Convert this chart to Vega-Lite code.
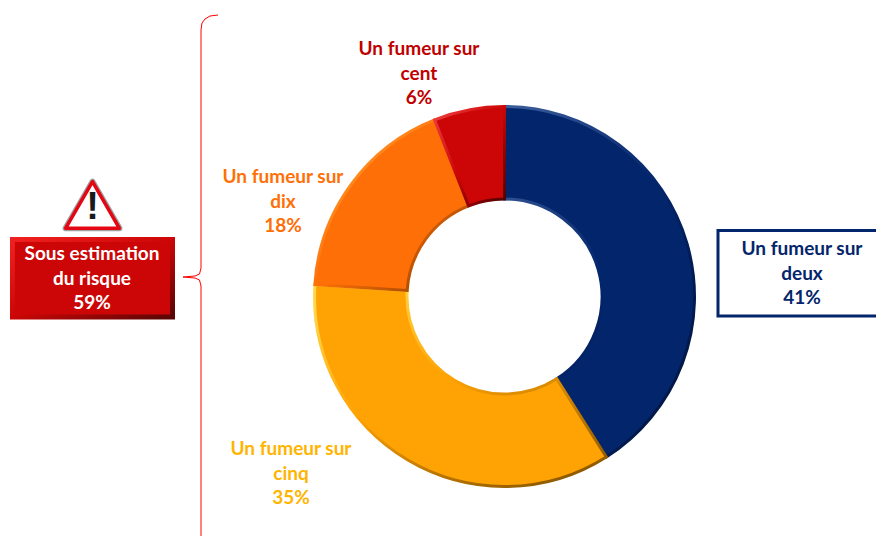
{"$schema":"https://vega.github.io/schema/vega-lite/v6.json","width":876,"height":536,"autosize":"none","padding":0,"background":"white","config":{"view":{"stroke":null},"axis":{"disable":true},"legend":{"disable":true}},
"datasets":{"parts":[{"tranche":"Un fumeur sur deux","part":41,"rang":1},{"tranche":"Un fumeur sur cinq","part":35,"rang":2},{"tranche":"Un fumeur sur dix","part":18,"rang":3},{"tranche":"Un fumeur sur cent","part":6,"rang":4}]},
"layer":[
{"data":{"values":[{"k":1,"x":218,"y":15},{"k":2,"x":210,"y":16},{"k":3,"x":205,"y":19},{"k":4,"x":202,"y":23},{"k":5,"x":201,"y":30},{"k":6,"x":201,"y":268},{"k":7,"x":199.5,"y":274},{"k":8,"x":195,"y":276},{"k":9,"x":183,"y":277},{"k":10,"x":195,"y":278},{"k":11,"x":199.5,"y":280},{"k":12,"x":201,"y":286},{"k":13,"x":201,"y":536}]},"mark":{"type":"line","color":"#FF0000","strokeWidth":1},"encoding":{"x":{"field":"x","type":"quantitative","scale":{"domain":[0,876],"nice":false,"zero":false}},"y":{"field":"y","type":"quantitative","scale":{"domain":[536,0],"nice":false,"zero":false}},"order":{"field":"k","type":"quantitative"}}},
{"data":{"name":"parts"},"transform":[{"stack":"part","sort":[{"field":"rang","order":"ascending"}],"as":["deb","fin"]},{"filter":"datum.rang==1"}],"mark":{"type":"arc","outerRadius":190,"innerRadius":97.5,"strokeWidth":3,"fill":"#03256B","stroke":{"gradient":"linear","x1":0,"y1":0,"x2":1,"y2":1,"stops":[{"offset":0,"color":"#3E5F9E"},{"offset":0.5,"color":"#03256B"},{"offset":1,"color":"#011238"}]}},"encoding":{"x":{"datum":504.5,"type":"quantitative"},"y":{"datum":296.5,"type":"quantitative"},"theta":{"field":"deb","type":"quantitative","scale":{"domain":[0,100],"nice":false,"zero":false}},"theta2":{"field":"fin"}}},
{"data":{"name":"parts"},"transform":[{"stack":"part","sort":[{"field":"rang","order":"ascending"}],"as":["deb","fin"]},{"filter":"datum.rang==2"}],"mark":{"type":"arc","outerRadius":190,"innerRadius":97.5,"strokeWidth":3,"fill":"#FFA304","stroke":{"gradient":"linear","x1":0.2,"y1":0,"x2":0.8,"y2":1,"stops":[{"offset":0,"color":"#FFD84A"},{"offset":0.45,"color":"#FFA304"},{"offset":1,"color":"#8F5A00"}]}},"encoding":{"x":{"datum":504.5,"type":"quantitative"},"y":{"datum":296.5,"type":"quantitative"},"theta":{"field":"deb","type":"quantitative"},"theta2":{"field":"fin"}}},
{"data":{"name":"parts"},"transform":[{"stack":"part","sort":[{"field":"rang","order":"ascending"}],"as":["deb","fin"]},{"filter":"datum.rang==3"}],"mark":{"type":"arc","outerRadius":190,"innerRadius":97.5,"strokeWidth":3,"fill":"#FF6F07","stroke":{"gradient":"linear","x1":0,"y1":0,"x2":1,"y2":1,"stops":[{"offset":0,"color":"#FFB040"},{"offset":0.5,"color":"#FF6F07"},{"offset":1,"color":"#7F3A00"}]}},"encoding":{"x":{"datum":504.5,"type":"quantitative"},"y":{"datum":296.5,"type":"quantitative"},"theta":{"field":"deb","type":"quantitative"},"theta2":{"field":"fin"}}},
{"data":{"name":"parts"},"transform":[{"stack":"part","sort":[{"field":"rang","order":"ascending"}],"as":["deb","fin"]},{"filter":"datum.rang==4"}],"mark":{"type":"arc","outerRadius":190,"innerRadius":97.5,"strokeWidth":3,"fill":"#CC0606","stroke":{"gradient":"linear","x1":0,"y1":0,"x2":1,"y2":1,"stops":[{"offset":0,"color":"#F04040"},{"offset":0.5,"color":"#CC0606"},{"offset":1,"color":"#4A0000"}]}},"encoding":{"x":{"datum":504.5,"type":"quantitative"},"y":{"datum":296.5,"type":"quantitative"},"theta":{"field":"deb","type":"quantitative"},"theta2":{"field":"fin"}}},
{"data":{"values":[{"a":12.5,"b":172.5,"c":239.5,"d":317}]},"mark":{"type":"rect","fill":"#CC0606","strokeWidth":5,"stroke":{"gradient":"linear","x1":0,"y1":0,"x2":1,"y2":1,"stops":[{"offset":0,"color":"#F02020"},{"offset":0.5,"color":"#CC0606"},{"offset":1,"color":"#5A0505"}]}},"encoding":{"x":{"field":"a","type":"quantitative"},"x2":{"field":"b"},"y":{"field":"c","type":"quantitative"},"y2":{"field":"d"}}},
{"data":{"values":[{"a":718,"b":882,"c":230.5,"d":316}]},"mark":{"type":"rect","fill":"white","stroke":"#03256B","strokeWidth":3},"encoding":{"x":{"field":"a","type":"quantitative"},"x2":{"field":"b"},"y":{"field":"c","type":"quantitative"},"y2":{"field":"d"}}},
{"data":{"values":[{"x":92.5,"y":205}]},"mark":{"type":"point","shape":"triangle-up","filled":true,"size":2900,"fill":"white","stroke":"#A0A0A0","strokeWidth":6,"strokeJoin":"round","opacity":1},"encoding":{"x":{"field":"x","type":"quantitative"},"y":{"field":"y","type":"quantitative"}}},
{"data":{"values":[{"x":92.5,"y":205}]},"mark":{"type":"point","shape":"triangle-up","filled":true,"size":2900,"fill":"white","stroke":"#E30613","strokeWidth":3.5,"strokeJoin":"round","opacity":1},"encoding":{"x":{"field":"x","type":"quantitative"},"y":{"field":"y","type":"quantitative"}}},
{"data":{"values":[{"x":92.5,"y":208,"t":"!"}]},"mark":{"type":"text","font":"Liberation Sans","fontWeight":"bold","fontSize":38,"color":"#1A1A1A","align":"center","baseline":"middle"},"encoding":{"x":{"field":"x","type":"quantitative"},"y":{"field":"y","type":"quantitative"},"text":{"field":"t"}}},
{"data":{"values":[{"x":92,"y":254,"t":"Sous estimation\ndu risque\n59%"}]},"mark":{"type":"text","font":"Lato","fontWeight":"bold","fontSize":19,"lineHeight":24.5,"lineBreak":"\n","color":"white","align":"center","baseline":"middle"},"encoding":{"x":{"field":"x","type":"quantitative"},"y":{"field":"y","type":"quantitative"},"text":{"field":"t"}}},
{"data":{"values":[{"x":419,"y":49,"t":"Un fumeur sur\ncent\n6%","c":"r"},{"x":283,"y":177,"t":"Un fumeur sur\ndix\n18%","c":"o"},{"x":291,"y":449,"t":"Un fumeur sur\ncinq\n35%","c":"y"},{"x":802,"y":249,"t":"Un fumeur sur\ndeux\n41%","c":"b"}]},"mark":{"type":"text","font":"Lato","fontWeight":"bold","fontSize":19,"lineHeight":24.5,"lineBreak":"\n","align":"center","baseline":"middle"},"encoding":{"x":{"field":"x","type":"quantitative"},"y":{"field":"y","type":"quantitative"},"text":{"field":"t"},"color":{"field":"c","type":"nominal","scale":{"domain":["r","o","y","b"],"range":["#C00000","#FF6F07","#FFB400","#03256B"]}}}}
]}
